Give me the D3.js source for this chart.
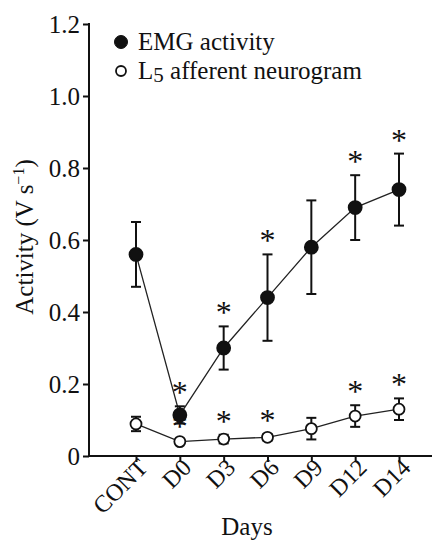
<!DOCTYPE html>
<html>
<head>
<meta charset="utf-8">
<script src="https://cdn.jsdelivr.net/npm/d3@7"></script>
<style>
  body { margin: 0; background: #fff; }
  svg text { font-family: "Liberation Serif", "Times New Roman", serif; fill: #111; }
</style>
</head>
<body>
<svg id="chart"></svg>
<script>
const days = ['CONT', 'D0', 'D3', 'D6', 'D9', 'D12', 'D14'];
const emgMean = [0.56, 0.114, 0.30, 0.44, 0.58, 0.69, 0.74];
const emgErr = [0.09, 0.024, 0.06, 0.12, 0.13, 0.09, 0.10];
const emgSig = [false, true, true, true, false, true, true];
const affMean = [0.089, 0.04, 0.047, 0.052, 0.076, 0.111, 0.13];
const affErr = [0.02, 0.005, 0.012, 0.009, 0.03, 0.03, 0.03];
const affSig = [false, true, true, true, false, true, true];
const yTicks = [0, 0.2, 0.4, 0.6, 0.8, 1.0, 1.2];

const width = 437;
const height = 543;
const axisLeft = 89;
const axisRight = 432;
const plotTop = 24;
const plotBottom = 456;
const fontFamily = '"Liberation Serif", "Times New Roman", serif';

const svg = d3.select('#chart')
  .attr('width', width)
  .attr('height', height)
  .attr('font-family', fontFamily);

const scaleX = d3.scalePoint()
  .domain(days)
  .range([136, 399]);

const scaleY = d3.scaleLinear()
  .domain([0, 1.2])
  .range([plotBottom, plotTop]);

// axes
const yAxis = svg.append('g')
  .attr('transform', `translate(${axisLeft},0)`)
  .call(d3.axisLeft(scaleY)
    .tickValues(yTicks)
    .tickSize(6)
    .tickPadding(3)
    .tickFormat(d => d === 0 ? '0' : d3.format('.1f')(d)));
yAxis.attr('font-family', fontFamily).attr('font-size', 25);
yAxis.select('.domain').remove();
yAxis.selectAll('line').attr('stroke', '#111').attr('stroke-width', 2);
yAxis.selectAll('text').attr('fill', '#111');

svg.append('line')
  .attr('x1', axisLeft).attr('x2', axisLeft)
  .attr('y1', plotTop - 1).attr('y2', plotBottom + 1)
  .attr('stroke', '#111').attr('stroke-width', 2);

const xAxis = svg.append('g')
  .attr('transform', `translate(0,${plotBottom})`)
  .call(d3.axisBottom(scaleX).tickSize(6).tickFormat(''));
xAxis.select('.domain').remove();
xAxis.selectAll('line').attr('stroke', '#111').attr('stroke-width', 2);

svg.append('line')
  .attr('x1', axisLeft - 1).attr('x2', axisRight)
  .attr('y1', plotBottom).attr('y2', plotBottom)
  .attr('stroke', '#111').attr('stroke-width', 2);

svg.append('g').selectAll('text')
  .data(days)
  .enter().append('text')
  .attr('text-anchor', 'end')
  .attr('font-size', 24)
  .attr('transform', d => `translate(${scaleX(d) + 13},${plotBottom + 13}) rotate(-45)`)
  .text(d => d);

svg.append('text')
  .attr('x', 247)
  .attr('y', 535)
  .attr('text-anchor', 'middle')
  .attr('font-size', 25)
  .text('Days');

const yTitle = svg.append('text')
  .attr('transform', 'translate(33,237) rotate(-90)')
  .attr('text-anchor', 'middle')
  .attr('font-size', 25);
yTitle.append('tspan').text('Activity (V s');
yTitle.append('tspan').attr('font-size', 16).attr('dy', -9).text('\u22121');
yTitle.append('tspan').attr('dy', 9).text(')');

// series
const series = [
  { mean: emgMean, err: emgErr, sig: emgSig, fill: '#111', r: 6.5 },
  { mean: affMean, err: affErr, sig: affSig, fill: '#fff', r: 5.5 },
];

const line = d3.line()
  .x((d, i) => scaleX(days[i]))
  .y(d => scaleY(d));

series.forEach(s => {
  svg.append('path')
    .datum(s.mean)
    .attr('d', line)
    .attr('fill', 'none')
    .attr('stroke', '#222')
    .attr('stroke-width', 1.3);
});

series.forEach(s => {
  const bars = svg.append('g').selectAll('g')
    .data(s.mean)
    .enter().append('g');

  bars.append('line')
    .attr('x1', (d, i) => scaleX(days[i]))
    .attr('x2', (d, i) => scaleX(days[i]))
    .attr('y1', (d, i) => scaleY(d + s.err[i]))
    .attr('y2', (d, i) => scaleY(d - s.err[i]))
    .attr('stroke', '#111')
    .attr('stroke-width', 2);

  [1, -1].forEach(sign => {
    bars.append('line')
      .attr('x1', (d, i) => scaleX(days[i]) - 5)
      .attr('x2', (d, i) => scaleX(days[i]) + 5)
      .attr('y1', (d, i) => scaleY(d + sign * s.err[i]))
      .attr('y2', (d, i) => scaleY(d + sign * s.err[i]))
      .attr('stroke', '#111')
      .attr('stroke-width', 2);
  });
});

series.forEach(s => {
  svg.append('g').selectAll('circle')
    .data(s.mean)
    .enter().append('circle')
    .attr('cx', (d, i) => scaleX(days[i]))
    .attr('cy', d => scaleY(d))
    .attr('r', s.r)
    .attr('fill', s.fill)
    .attr('stroke', '#111')
    .attr('stroke-width', 1.8);
});

// significance marks
series.forEach(s => {
  const marks = days
    .map((day, i) => ({ day, top: s.mean[i] + s.err[i], sig: s.sig[i] }))
    .filter(d => d.sig);

  svg.append('g').selectAll('text')
    .data(marks)
    .enter().append('text')
    .attr('x', d => scaleX(d.day))
    .attr('y', d => scaleY(d.top) - 3)
    .attr('text-anchor', 'middle')
    .attr('font-size', 32)
    .attr('fill', '#333')
    .text('*');
});

// legend
const legend = svg.append('g');
legend.append('circle')
  .attr('cx', 121).attr('cy', 42).attr('r', 6.5)
  .attr('fill', '#111').attr('stroke', '#111');
legend.append('text')
  .attr('x', 138).attr('y', 50)
  .attr('font-size', 25)
  .text('EMG activity');
legend.append('circle')
  .attr('cx', 121).attr('cy', 71).attr('r', 5)
  .attr('fill', '#fff').attr('stroke', '#111').attr('stroke-width', 1.8);
const leg2 = legend.append('text')
  .attr('x', 138).attr('y', 79)
  .attr('font-size', 25);
leg2.append('tspan').text('L');
leg2.append('tspan').attr('font-size', 21).attr('dy', 3).text('5');
leg2.append('tspan').attr('dy', -3).text(' afferent neurogram');
</script>
</body>
</html>
